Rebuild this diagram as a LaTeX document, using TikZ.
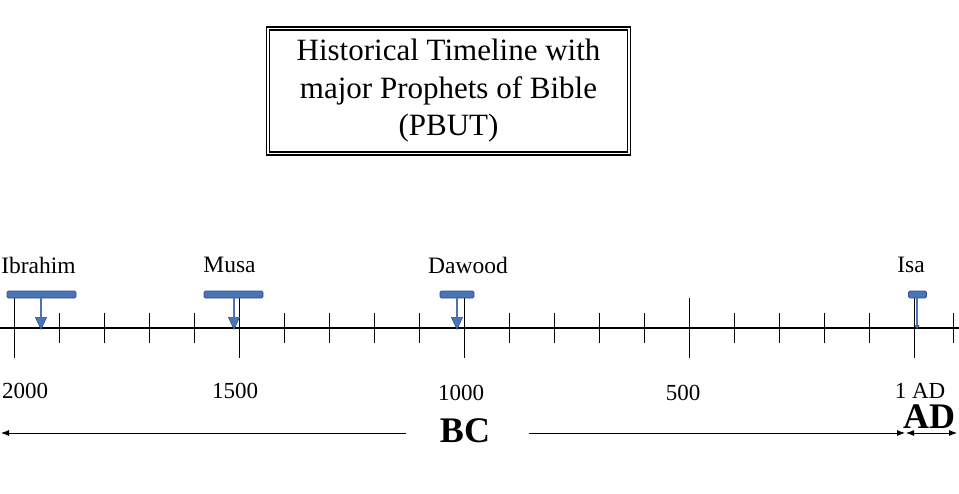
\documentclass[tikz,border=0pt]{standalone}
\usepackage{fontspec}
\setmainfont{Liberation Serif}
\usetikzlibrary{arrows.meta}
\definecolor{barblue}{HTML}{4A74B4}
\definecolor{bardark}{HTML}{2F528F}
\tikzset{
  prophetbar/.style={draw=bardark, fill=barblue, rounded corners=1.5pt, line width=0.8pt,
    minimum height=7pt, inner sep=0pt},
  pointer/.style={draw=barblue, line width=2.5pt,
    -{Triangle[width=12pt, length=13pt, fill=barblue, color=bardark, line width=0.6pt]}},
  smallpointer/.style={draw=barblue, line width=1.8pt,
    -{Triangle[width=5pt, length=4pt, fill=barblue, color=bardark, line width=0.4pt]}},
  prophetname/.style={font=\fontsize{23.5}{27}\selectfont, inner sep=0pt},
  yearlabel/.style={font=\fontsize{23}{27}\selectfont, inner sep=0pt},
  eralabel/.style={font=\fontsize{36}{40}\selectfont\bfseries, inner sep=0pt},
  timearrow/.style={line width=0.8pt, -{Latex[length=8pt,width=6pt]}}
}
\begin{document}
\begin{tikzpicture}[x=1pt, y=-1pt]
\useasboundingbox (0,0) rectangle (959,493);
% title
\node[draw, line width=1.5pt, double, double distance=1.8pt, minimum width=361pt, minimum height=125pt,
  align=center, font=\fontsize{31}{37.5}\selectfont, inner sep=0pt] (title) at (448.5,91)
  {Historical Timeline with\\major Prophets of Bible\\(PBUT)};
% axis and ticks
\draw[line width=2pt] (0,328) -- (959,328);
\foreach \x in {14,239,...,914}
  \draw[line width=1pt] (\x,298) -- (\x,358);
\foreach \x in {59,104,...,869,953}
  \draw[line width=1pt] (\x,313) -- (\x,343);
% years
\node[yearlabel] (y2000) at (25,391) {2000};
\node[yearlabel] (y1500) at (235,391) {1500};
\node[yearlabel] (y1000) at (461,393) {1000};
\node[yearlabel] (y500) at (683,393) {500};
\node[yearlabel] (y1ad) at (920,391) {1 AD};
% prophets
\node[prophetname] (ibrahim) at (38.5,265) {Ibrahim};
\node[prophetname] (musa) at (229.5,265) {Musa};
\node[prophetname] (dawood) at (468,265) {Dawood};
\node[prophetname] (isa) at (911,265) {Isa};
\node[prophetbar, minimum width=69pt] (ibrbar) at (41.5,294.5) {};
\node[prophetbar, minimum width=59pt] (musbar) at (233.5,294.5) {};
\node[prophetbar, minimum width=34pt] (dawbar) at (457,294.5) {};
\node[prophetbar, minimum width=18pt] (isabar) at (917.5,294.5) {};
\coordinate (ibrtip) at (41,330);
\coordinate (mustip) at (234,330);
\coordinate (dawtip) at (457,330);
\coordinate (isatip) at (917,329);
\draw[pointer] (ibrbar.south -| ibrtip) -- (ibrtip);
\draw[pointer] (musbar.south -| mustip) -- (mustip);
\draw[pointer] (dawbar.south -| dawtip) -- (dawtip);
\draw[smallpointer] (isabar.south -| isatip) -- (isatip);
% eras
\node[eralabel] (bc) at (465,431) {BC};
\node[eralabel] (ad) at (929,417) {AD};
\coordinate (bcgapL) at (406,433);
\coordinate (bcgapR) at (529,433);
\coordinate (bcL) at (1,433);
\coordinate (bcR) at (905,433);
\coordinate (adL) at (906,433);
\coordinate (adR) at (957,433);
\draw[timearrow] (bcgapL) -- (bcL);
\draw[timearrow] (bcgapR) -- (bcR);
\draw[timearrow, {Latex[length=8pt,width=6pt]}-{Latex[length=8pt,width=6pt]}] (adL) -- (adR);
\end{tikzpicture}
\end{document}
